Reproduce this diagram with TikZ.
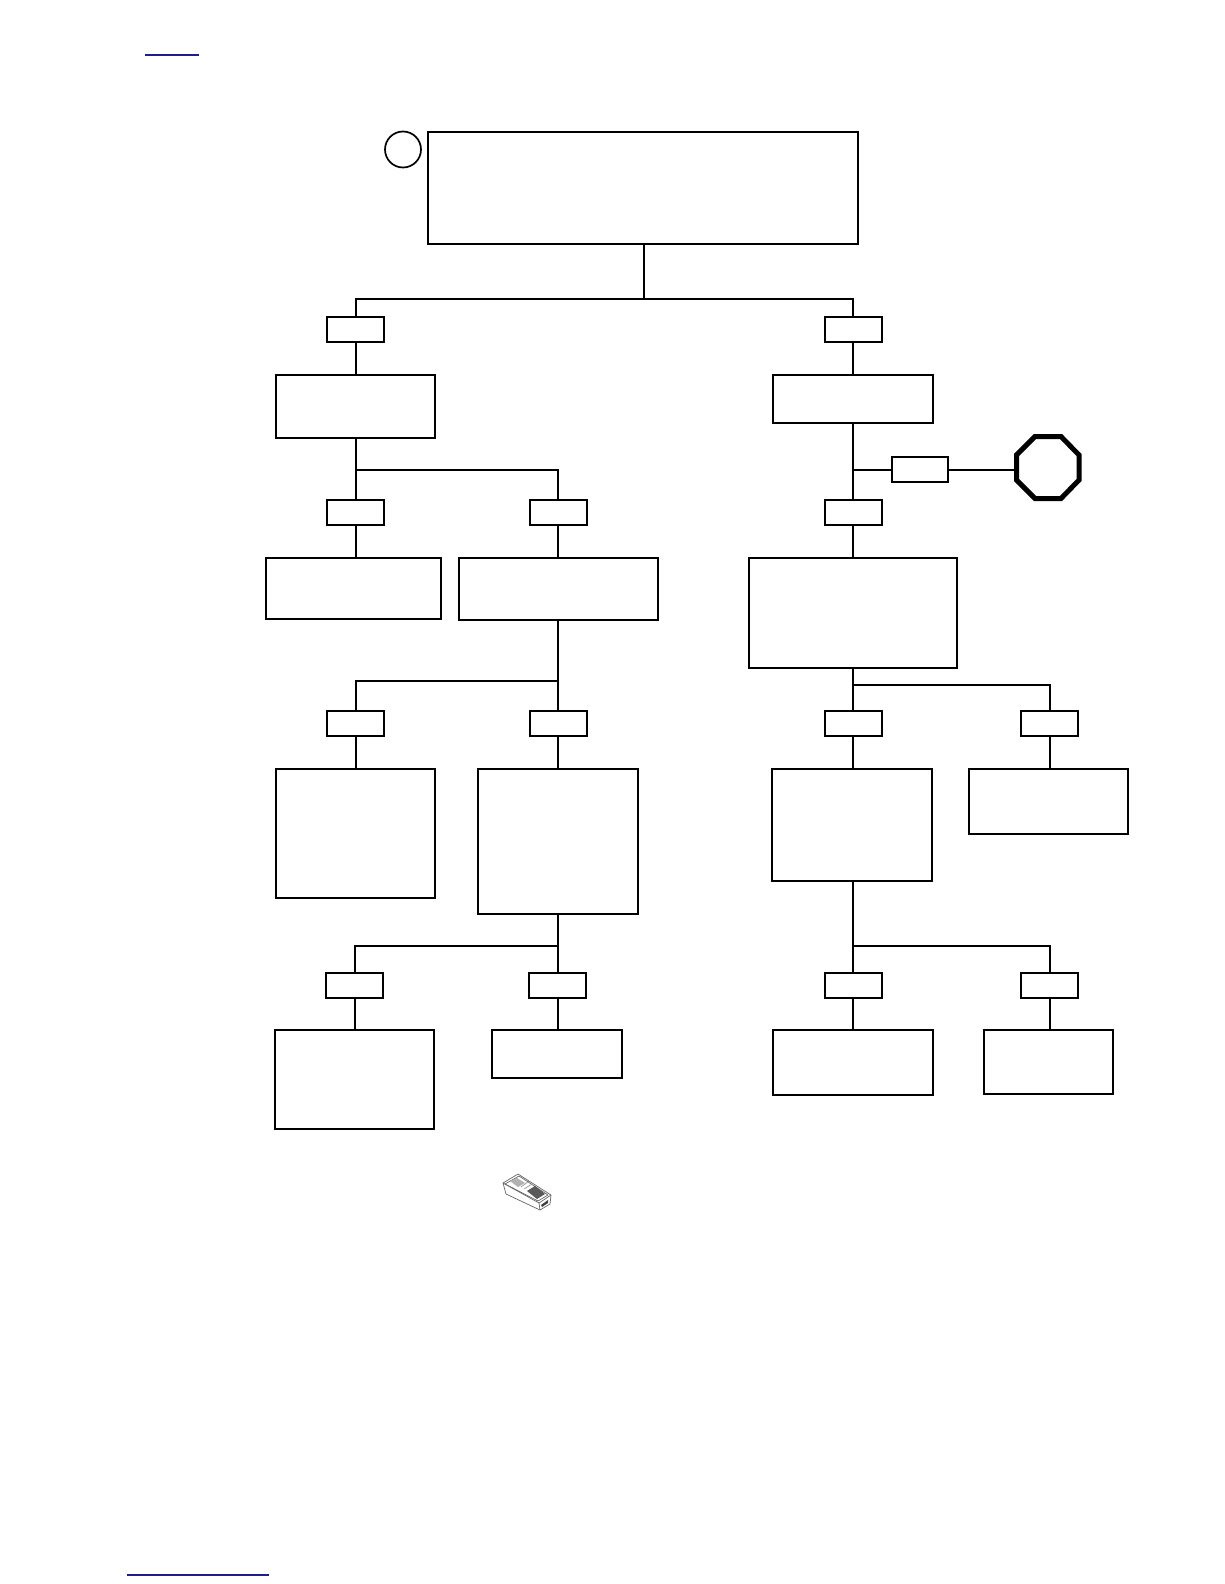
\documentclass[tikz,border=0pt]{standalone}
\usetikzlibrary{calc}
\definecolor{linkblue}{RGB}{30,30,140}
\tikzset{
  x=1pt,y=-1pt,
  box/.style={draw=black,line width=2pt,fill=white,inner sep=0pt,outer sep=0pt,rectangle},
  conn/.style={draw=black,line width=2pt,line cap=rect},
  linkline/.style={draw=linkblue,line width=1.4pt},
  stopsign/.style={draw=black,line width=5pt,line join=miter,fill=white},
  devline/.style={draw=black!60,line width=.7pt,line join=round},
}
\newcommand{\bx}[5]{%
  \pgfmathsetmacro{\bxl}{round(#2)}\pgfmathsetmacro{\bxt}{round(#3)}%
  \pgfmathsetmacro{\bxr}{round(#4)}\pgfmathsetmacro{\bxb}{round(#5)}%
  \pgfmathsetmacro{\bxw}{\bxr-\bxl}\pgfmathsetmacro{\bxh}{\bxb-\bxt}%
  \pgfmathsetmacro{\bxcx}{(\bxl+\bxr)/2}\pgfmathsetmacro{\bxcy}{(\bxt+\bxb)/2}%
  \node[box,minimum width=\bxw pt,minimum height=\bxh pt] (#1) at (\bxcx,\bxcy) {};}
\begin{document}
\begin{tikzpicture}
\useasboundingbox (0,0) rectangle (1224,1584);
\fill[white] (0,0) rectangle (1224,1584);
\coordinate (ulA) at (145,55); \coordinate (ulB) at (199,55);
\coordinate (llA) at (127,1575); \coordinate (llB) at (269,1575);
\draw[linkline] (ulA) -- (ulB);
\draw[linkline] (llA) -- (llB);
% junctions
\coordinate (j1) at (644,299);
\coordinate (jL1) at (356,470);
\coordinate (jL2) at (558,681);
\coordinate (jL3) at (558,946);
\coordinate (jR1) at (853,685);
\coordinate (jR2) at (853,946);
\coordinate (jS) at (853,470);
\bx{top}{428}{132}{858}{244}
\node[draw=black,line width=1.7pt,circle,inner sep=0pt,outer sep=0pt,minimum size=36pt] (circ) at (403,149.5) {};
\bx{yA}{327}{317}{384}{342}
\bx{yB}{825}{317}{882}{342}
\bx{bA}{276}{375}{435}{438}
\bx{bB}{773}{375}{933}{423}
\bx{yC}{327}{500}{384}{525}
\bx{yD}{530}{500}{587}{525}
\bx{yE}{825}{500}{882}{525}
\bx{yF}{892}{457}{948}{482}
\coordinate (stopW) at (1016,470);
\bx{bC}{266}{558}{441}{619}
\bx{bD}{459}{558}{658}{620}
\bx{bE}{749}{558}{957}{668}
\bx{yG}{327}{711}{384}{736}
\bx{yH}{530}{711}{587}{736}
\bx{yI}{825}{711}{882}{736}
\bx{yJ}{1021}{711}{1078}{736}
\bx{bF}{276}{769}{435}{898}
\bx{bG}{478}{769}{638}{914}
\bx{bH}{772}{769}{932}{881}
\bx{bI}{969}{769}{1128}{834}
\bx{yK}{326}{973}{383}{998}
\bx{yL}{529}{973}{586}{998}
\bx{yM}{825}{973}{882}{998}
\bx{yN}{1021}{973}{1078}{998}
\bx{bJ}{275}{1030}{434}{1129}
\bx{bK}{492}{1030}{622}{1078}
\bx{bL}{773}{1030}{933}{1095}
\bx{bM}{984}{1030}{1113}{1094}
% connectors
\draw[conn] (j1 |- top.south) -- (j1);
\draw[conn] (jL1 |- j1) -- (j1) -- (jR1 |- j1);
\draw[conn] (jL1 |- j1) -- (jL1 |- yA.north);
\draw[conn] (jR1 |- j1) -- (jR1 |- yB.north);
\draw[conn] (jL1 |- yA.south) -- (jL1 |- bA.north);
\draw[conn] (jR1 |- yB.south) -- (jR1 |- bB.north);
\draw[conn] (jL1 |- bA.south) -- (jL1 |- yC.north);
\draw[conn] (jL1) -| (jL2 |- yD.north);
\draw[conn] (jL1 |- yC.south) -- (jL1 |- bC.north);
\draw[conn] (jL2 |- yD.south) -- (jL2 |- bD.north);
\draw[conn] (jR1 |- bB.south) -- (jR1 |- yE.north);
\draw[conn] (jS) -- (jS -| yF.west);
\draw[conn] (jS -| yF.east) -- (stopW);
\draw[conn] (jR1 |- yE.south) -- (jR1 |- bE.north);
\draw[conn] (jL2 |- bD.south) -- (jL2 |- yH.north);
\draw[conn] (jL2) -| (jL1 |- yG.north);
\draw[conn] (jL1 |- yG.south) -- (jL1 |- bF.north);
\draw[conn] (jL2 |- yH.south) -- (jL2 |- bG.north);
\draw[conn] (jR1 |- bE.south) -- (jR1 |- yI.north);
\draw[conn] (jR1) -| (yJ.north);
\draw[conn] (jR1 |- yI.south) -- (jR1 |- bH.north);
\draw[conn] (yJ.south) -- (bI.north -| yJ.south);
\draw[conn] (jL2 |- bG.south) -- (jL2 |- yL.north);
\draw[conn] (jL3) -| (yK.north);
\draw[conn] (yK.south) -- (bJ.north -| yK.south);
\draw[conn] (jL2 |- yL.south) -- (jL2 |- bK.north);
\draw[conn] (jR2 |- bH.south) -- (jR2 |- yM.north);
\draw[conn] (jR2) -| (yN.north);
\draw[conn] (jR2 |- yM.south) -- (jR2 |- bL.north);
\draw[conn] (yN.south) -- (bM.north -| yN.south);
% stop octagon
\draw[stopsign] (1035,436.5) -- (1061,436.5) -- (1079,455) -- (1079,480) -- (1061,498.5) -- (1035,498.5) -- (1016.5,480) -- (1016.5,455) -- cycle;
% handheld tester icon
\draw[devline,fill=white] (503,1183) -- (518,1174) -- (551,1195) -- (550,1204) -- (540,1210) -- (506,1194) -- cycle;
\draw[devline] (503,1183) -- (539,1203) -- (551,1195);
\draw[devline] (539,1203) -- (540,1210);
\draw[devline] (505,1184) -- (519,1176) -- (548,1195) -- (538,1201) -- cycle;
\fill[black!30] (510,1181) -- (517,1178) -- (525,1183) -- (518,1187) -- cycle;
\fill[black!65] (527,1191) -- (535,1186) -- (545,1194) -- (537,1199) -- cycle;
\draw[black!45,line width=.6pt] (521,1187) -- (529,1181);
\draw[black!45,line width=.6pt] (524,1189) -- (532,1184);
\fill[black!75] (541,1205) -- (548,1200) -- (548,1203) -- (542,1207) -- cycle;
\end{tikzpicture}
\end{document}
